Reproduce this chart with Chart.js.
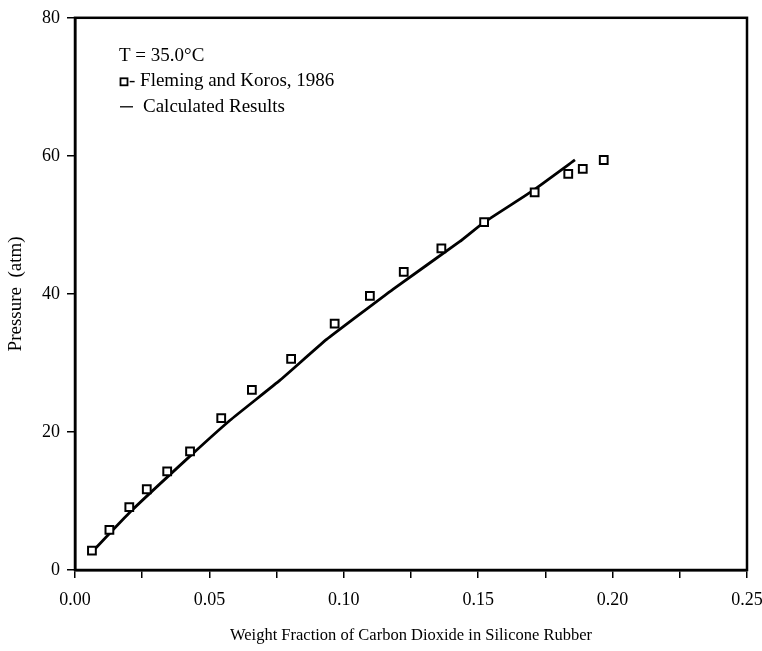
<!DOCTYPE html>
<html>
<head>
<meta charset="utf-8">
<script src="https://cdn.jsdelivr.net/npm/chart.js@4.4.1/dist/chart.umd.min.js"></script>
<style>
  html, body { margin: 0; padding: 0; background: #fff; }
  #wrap { width: 762px; height: 651px; }
</style>
</head>
<body>
<div id="wrap"><canvas id="myChart" width="762" height="651"></canvas></div>
<script>
// measured points (weight fraction, pressure in atm)
var expX = [0.0063, 0.0128, 0.0202, 0.0267, 0.0343, 0.0428, 0.0544, 0.0658, 0.0804,
            0.0966, 0.1097, 0.1223, 0.1363, 0.1522, 0.1710, 0.1835, 0.1889, 0.1967];
var expY = [2.8, 5.8, 9.1, 11.7, 14.3, 17.2, 22.0, 26.1, 30.6,
            35.7, 39.7, 43.2, 46.6, 50.4, 54.7, 57.4, 58.1, 59.4];

// calculated curve
var calcX = [0.0068, 0.0205, 0.0428, 0.0577, 0.0763, 0.0936, 0.1184, 0.1432, 0.1519, 0.1705, 0.1860];
var calcY = [2.8, 8.4, 16.5, 21.7, 27.5, 33.4, 40.7, 47.6, 50.3, 55.0, 59.4];

var xTicks = [0, 0.05, 0.10, 0.15, 0.20, 0.25];
var yTicks = [0, 20, 40, 60, 80];

var notes = ['T = 35.0°C', '- Fleming and Koros, 1986', 'Calculated Results'];

function toPoints(xs, ys) {
    return xs.map(function (x, i) { return { x: x, y: ys[i] }; });
}

var serif = "'Liberation Serif', 'Times New Roman', serif";
Chart.defaults.font.family = serif;
Chart.defaults.color = '#000';

// box around the plot area plus the key in the upper left
var framePlugin = {
    id: 'frame',
    afterDraw: function (chart) {
        var ctx = chart.ctx;
        var a = chart.chartArea;
        ctx.save();
        ctx.strokeStyle = '#000';
        ctx.lineWidth = 2.5;
        ctx.strokeRect(a.left, a.top, a.right - a.left, a.bottom - a.top);

        ctx.fillStyle = '#000';
        ctx.font = '19px ' + serif;
        ctx.textBaseline = 'middle';
        var x0 = a.left + 44;
        ctx.fillText(notes[0], x0, a.top + 38);
        // little square symbol
        ctx.lineWidth = 1.8;
        ctx.strokeRect(x0 + 1.5, a.top + 60.5, 7, 7);
        ctx.fillText(notes[1], x0 + 10, a.top + 63);
        // line symbol
        ctx.lineWidth = 1.3;
        ctx.beginPath();
        ctx.moveTo(x0 + 1, a.top + 89);
        ctx.lineTo(x0 + 14, a.top + 89);
        ctx.stroke();
        ctx.fillText(notes[2], x0 + 24, a.top + 89);
        ctx.restore();
    }
};

var ctx = document.getElementById('myChart').getContext('2d');
var myChart = new Chart(ctx, {
    type: 'scatter',
    data: {
        datasets: [{
            label: 'Calculated Results',
            data: toPoints(calcX, calcY),
            showLine: true,
            borderColor: '#000',
            borderWidth: 2.8,
            pointRadius: 0,
            tension: 0.1,
            order: 2
        }, {
            label: 'Fleming and Koros, 1986',
            data: toPoints(expX, expY),
            pointStyle: 'rect',
            pointRadius: 5.5,
            pointBorderWidth: 2,
            pointBorderColor: '#000',
            pointBackgroundColor: '#fff',
            order: 1
        }]
    },
    options: {
        responsive: false,
        animation: false,
        layout: { padding: { top: 16, right: 15, left: 0, bottom: 0 } },
        plugins: {
            legend: { display: false },
            tooltip: { enabled: false }
        },
        scales: {
            x: {
                type: 'linear',
                min: xTicks[0],
                max: xTicks[xTicks.length - 1],
                afterBuildTicks: function (scale) {
                    var t = [];
                    for (var i = 0; i < xTicks.length; i++) {
                        t.push({ value: xTicks[i] });
                        if (i < xTicks.length - 1) t.push({ value: (xTicks[i] + xTicks[i + 1]) / 2 });
                    }
                    scale.ticks = t;
                },
                afterFit: function (scale) {
                    scale.height = 81;
                    scale.paddingLeft = 0;
                    scale.paddingRight = 0;
                },
                ticks: {
                    autoSkip: false,
                    maxRotation: 0,
                    padding: 11,
                    font: { size: 18 },
                    callback: function (v) {
                        var i = xTicks.indexOf(Math.round(v * 1000) / 1000);
                        return i >= 0 ? xTicks[i].toFixed(2) : '';
                    }
                },
                grid: { drawOnChartArea: false, tickLength: 8, color: '#000', lineWidth: 1.5 },
                border: { color: '#000', width: 2.5 },
                title: {
                    display: true,
                    text: 'Weight Fraction of Carbon Dioxide in Silicone Rubber',
                    font: { size: 16.5 },
                    padding: { top: 4, bottom: 5 }
                }
            },
            y: {
                type: 'linear',
                min: yTicks[0],
                max: yTicks[yTicks.length - 1],
                afterBuildTicks: function (scale) {
                    scale.ticks = yTicks.map(function (v) { return { value: v }; });
                },
                afterFit: function (scale) { scale.width = 75; },
                ticks: { padding: 7, font: { size: 18 } },
                grid: { drawOnChartArea: false, tickLength: 8, color: '#000', lineWidth: 1.5 },
                border: { color: '#000', width: 2.5 },
                title: {
                    display: true,
                    text: 'Pressure  (atm)',
                    font: { size: 19 },
                    padding: { top: 5, bottom: 8 }
                }
            }
        }
    },
    plugins: [framePlugin]
});
</script>
</body>
</html>
